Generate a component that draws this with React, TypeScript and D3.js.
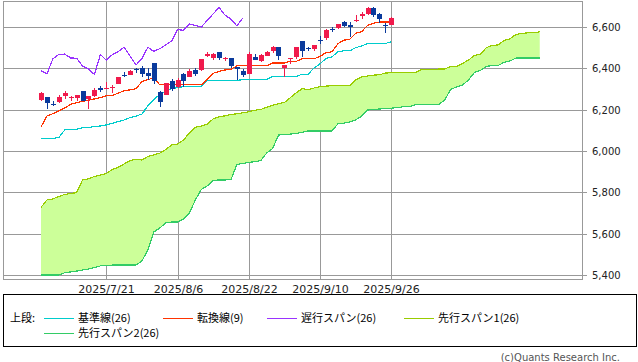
import * as d3 from 'd3';

const WIDTH = 638;
const HEIGHT = 362;
const FRAME = { left: 3, right: 583, top: 1, bottom: 280 };

// trading days shown (candles)
const dates = [
    '2025/7/3', '2025/7/7', '2025/7/8', '2025/7/9', '2025/7/10', '2025/7/11', '2025/7/14', '2025/7/15', '2025/7/16', '2025/7/17',
    '2025/7/18', '2025/7/21', '2025/7/22', '2025/7/23', '2025/7/24', '2025/7/25', '2025/7/28', '2025/7/29', '2025/7/30', '2025/7/31',
    '2025/8/1', '2025/8/4', '2025/8/5', '2025/8/6', '2025/8/7', '2025/8/8', '2025/8/11', '2025/8/12', '2025/8/13', '2025/8/14',
    '2025/8/15', '2025/8/18', '2025/8/19', '2025/8/20', '2025/8/21', '2025/8/22', '2025/8/25', '2025/8/26', '2025/8/27', '2025/8/28',
    '2025/8/29', '2025/9/2', '2025/9/3', '2025/9/4', '2025/9/5', '2025/9/8', '2025/9/9', '2025/9/10', '2025/9/11', '2025/9/12',
    '2025/9/15', '2025/9/16', '2025/9/17', '2025/9/18', '2025/9/19', '2025/9/22', '2025/9/23', '2025/9/24', '2025/9/25', '2025/9/26',
];

const opens = [
    6246, 6259, 6229, 6235, 6264, 6256, 6255, 6288, 6254, 6264,
    6306, 6304, 6306, 6326, 6368, 6370, 6397, 6404, 6376, 6427,
    6287, 6272, 6337, 6309, 6372, 6358, 6390, 6392, 6458, 6451,
    6479, 6445, 6449, 6407, 6385, 6374, 6457, 6435, 6462, 6483,
    6501, 6401, 6443, 6456, 6530, 6498, 6494, 6537, 6545, 6590,
    6597, 6624, 6608, 6627, 6651, 6662, 6694, 6661, 6612, 6611,
];
const highs = [
    6284, 6263, 6242, 6269, 6290, 6266, 6273, 6290, 6268, 6304,
    6316, 6336, 6317, 6360, 6381, 6390, 6401, 6409, 6402, 6427,
    6288, 6330, 6346, 6352, 6379, 6395, 6400, 6446, 6481, 6473,
    6481, 6456, 6452, 6407, 6395, 6481, 6467, 6468, 6484, 6508,
    6501, 6416, 6451, 6502, 6532, 6502, 6513, 6555, 6592, 6600,
    6616, 6627, 6624, 6657, 6672, 6698, 6696, 6667, 6619, 6650,
];
const lows = [
    6240, 6201, 6217, 6231, 6251, 6242, 6242, 6243, 6201, 6263,
    6285, 6303, 6281, 6322, 6360, 6366, 6379, 6360, 6345, 6326,
    6212, 6272, 6289, 6303, 6310, 6356, 6364, 6386, 6455, 6441,
    6441, 6437, 6404, 6343, 6360, 6374, 6438, 6430, 6460, 6475,
    6441, 6360, 6422, 6446, 6455, 6484, 6482, 6519, 6538, 6577,
    6591, 6600, 6551, 6624, 6637, 6658, 6646, 6620, 6570, 6608,
];
const closes = [
    6279, 6230, 6226, 6263, 6280, 6260, 6269, 6244, 6264, 6297,
    6297, 6306, 6310, 6359, 6363, 6389, 6390, 6371, 6363, 6339,
    6238, 6330, 6299, 6345, 6340, 6389, 6373, 6446, 6467, 6469,
    6450, 6449, 6411, 6396, 6370, 6467, 6439, 6466, 6481, 6502,
    6460, 6416, 6448, 6502, 6482, 6495, 6513, 6532, 6587, 6584,
    6615, 6607, 6600, 6632, 6664, 6694, 6657, 6638, 6605, 6644,
];

// 転換線(9)
const tenkan = [
    6116, 6169, 6181, 6194, 6208, 6226, 6234, 6240, 6246, 6252,
    6258, 6268, 6268, 6280, 6291, 6296, 6301, 6336, 6345, 6354,
    6320, 6320, 6320, 6320, 6320, 6320, 6320, 6320, 6346, 6376,
    6385, 6392, 6396, 6412, 6412, 6412, 6412, 6412, 6412, 6426,
    6426, 6426, 6434, 6434, 6446, 6446, 6446, 6458, 6476, 6480,
    6519, 6536, 6541, 6570, 6577, 6608, 6618, 6624, 6624, 6624,
];
// 基準線(26)
const kijun = [
    6061, 6061, 6061, 6065, 6102, 6105, 6105, 6113, 6114, 6118,
    6121, 6126, 6134, 6142, 6150, 6162, 6169, 6179, 6218, 6249,
    6273, 6290, 6302, 6307, 6311, 6314, 6314, 6314, 6341, 6341,
    6341, 6341, 6341, 6341, 6346, 6346, 6346, 6346, 6346, 6360,
    6360, 6360, 6360, 6360, 6372, 6372, 6402, 6422, 6448, 6455,
    6480, 6485, 6485, 6500, 6508, 6520, 6520, 6520, 6520, 6529,
];
// 先行スパン1 (runs 25 days past the last candle)
const senkouA = [
    5727, 5763, 5768, 5780, 5790, 5794, 5799, 5860, 5865, 5877,
    5884, 5891, 5910, 5921, 5937, 5954, 5960, 5956, 5973, 5981,
    5990, 6007, 6029, 6034, 6053, 6088, 6115, 6121, 6130, 6155,
    6166, 6170, 6177, 6180, 6185, 6190, 6197, 6201, 6211, 6221,
    6229, 6235, 6258, 6282, 6302, 6297, 6305, 6311, 6314, 6316,
    6317, 6317, 6317, 6344, 6359, 6363, 6367, 6369, 6377, 6379,
    6379, 6379, 6379, 6379, 6393, 6393, 6393, 6397, 6397, 6409,
    6409, 6424, 6440, 6462, 6468, 6500, 6511, 6513, 6535, 6543,
    6564, 6569, 6572, 6572, 6577,
];
// 先行スパン2
const senkouB = [
    5400, 5400, 5400, 5400, 5411, 5415, 5419, 5424, 5429, 5436,
    5444, 5446, 5448, 5448, 5448, 5448, 5448, 5468, 5521, 5608,
    5627, 5652, 5656, 5656, 5671, 5700, 5763, 5814, 5831, 5857,
    5860, 5860, 5862, 5935, 5940, 5944, 5949, 5953, 5990, 6012,
    6077, 6080, 6082, 6085, 6090, 6097, 6097, 6097, 6097, 6097,
    6131, 6135, 6140, 6150, 6169, 6198, 6201, 6203, 6206, 6207,
    6210, 6214, 6214, 6223, 6226, 6226, 6226, 6226, 6247, 6298,
    6310, 6319, 6344, 6380, 6390, 6409, 6414, 6414, 6429, 6436,
    6450, 6450, 6450, 6450, 6450,
];
const CHIKOU_SHIFT = 25;

const yTicks = [5400, 5600, 5800, 6000, 6200, 6400, 6600];
const dateTicks = ['2025/7/21', '2025/8/6', '2025/8/22', '2025/9/10', '2025/9/26'];

const COLORS = {
    up: '#F01A4C',
    down: '#0A3A9C',
    kijun: '#00CCCC',
    tenkan: '#FF3300',
    chikou: '#9933FF',
    spanA: '#99CC00',
    spanB: '#33CC66',
    cloud: '#CCFF99',
    grid: '#999999',
};

const legendRows = [
    [
        { label: '基準線(26)', color: COLORS.kijun, x: 44 },
        { label: '転換線(9)', color: COLORS.tenkan, x: 163 },
        { label: '遅行スパン(26)', color: COLORS.chikou, x: 267 },
        { label: '先行スパン1(26)', color: COLORS.spanA, x: 404 },
    ],
    [{ label: '先行スパン2(26)', color: COLORS.spanB, x: 44 }],
];

const crisp = (v: number) => Math.round(v) + 0.5;

export default function App() {
    // index -> x, candle 0 sits at 41px, 9/26 at 391px
    const xScale = d3.scaleLinear().domain([0, 59]).range([41, 391.3]);
    const yScale = d3.scaleLinear().domain([5400, 6600]).range([275, 27]);

    const line = d3
        .line<number>()
        .x((_, i) => xScale(i))
        .y(d => yScale(d));

    const cloud = d3
        .area<number>()
        .x((_, i) => xScale(i))
        .y0((_, i) => yScale(senkouB[i]))
        .y1(d => yScale(d));

    const chikou = closes.slice(CHIKOU_SHIFT);

    // the indicator lines in the original are hard pixel lines
    const series = [
        { data: senkouA, color: COLORS.spanA },
        { data: senkouB, color: COLORS.spanB },
        { data: kijun, color: COLORS.kijun },
        { data: tenkan, color: COLORS.tenkan },
        { data: chikou, color: COLORS.chikou },
    ];

    const candles = closes.map((c, i) => {
        const o = opens[i];
        const cx = Math.round(xScale(i));
        const color = c >= o ? COLORS.up : COLORS.down;
        const top = Math.round(yScale(Math.max(o, c)));
        const bottom = Math.round(yScale(Math.min(o, c)));
        return (
            <g key={i}>
                <line
                    x1={cx + 0.5}
                    x2={cx + 0.5}
                    y1={Math.round(yScale(highs[i]))}
                    y2={Math.round(yScale(lows[i]))}
                    stroke={color}
                    strokeWidth={1}
                />
                <rect x={cx - 2} y={top} width={5} height={Math.max(1, bottom - top)} fill={color} />
            </g>
        );
    });

    return (
        <svg
            width={WIDTH}
            height={HEIGHT}
            style={{ position: 'absolute', left: 0, top: 0, background: '#fff' }}
        >
            {/* grid */}
            {yTicks.map(v => (
                <g key={v}>
                    <line
                        x1={FRAME.left}
                        x2={FRAME.right + 4}
                        y1={crisp(yScale(v))}
                        y2={crisp(yScale(v))}
                        stroke={COLORS.grid}
                        shapeRendering="crispEdges"
                    />
                    <text
                        x={592}
                        y={yScale(v) + 4}
                        fontFamily="DejaVu Sans"
                        fontSize={10}
                        fill="#222"
                    >
                        {d3.format(',')(v)}
                    </text>
                </g>
            ))}
            {dateTicks.map(d => {
                const x = crisp(xScale(dates.indexOf(d)));
                return (
                    <g key={d}>
                        <line
                            x1={x}
                            x2={x}
                            y1={FRAME.top}
                            y2={FRAME.bottom}
                            stroke={COLORS.grid}
                            shapeRendering="crispEdges"
                        />
                        <text
                            x={x}
                            y={293}
                            textAnchor="middle"
                            fontFamily="DejaVu Sans"
                            fontSize={11}
                            fill="#222"
                        >
                            {d}
                        </text>
                    </g>
                );
            })}

            {/* ichimoku cloud + lines */}
            <path d={cloud(senkouA) ?? ''} fill={COLORS.cloud} />
            {series.map((s, i) => (
                <path
                    key={i}
                    d={line(s.data) ?? ''}
                    fill="none"
                    stroke={s.color}
                    strokeWidth={1.2}
                    shapeRendering="crispEdges"
                />
            ))}

            {candles}

            <rect
                x={FRAME.left + 0.5}
                y={FRAME.top + 0.5}
                width={FRAME.right - FRAME.left - 1}
                height={FRAME.bottom - FRAME.top - 1}
                fill="none"
                stroke={COLORS.grid}
                shapeRendering="crispEdges"
            />

            {/* legend */}
            <rect x={3.5} y={294.5} width={633} height={52} fill="none" stroke="#000" shapeRendering="crispEdges" />
            <text x={10} y={322} fontFamily="Noto Sans CJK JP" fontSize={11} fill="#000">
                上段:
            </text>
            {legendRows.map((row, r) =>
                row.map(item => {
                    const y = 318 + r * 15;
                    return (
                        <g key={item.label}>
                            <line
                                x1={item.x}
                                x2={item.x + 30}
                                y1={y + 0.5}
                                y2={y + 0.5}
                                stroke={item.color}
                                shapeRendering="crispEdges"
                            />
                            <text x={item.x + 34} y={y + 4} fontFamily="Noto Sans CJK JP" fontSize={11} fill="#000">
                                {item.label}
                            </text>
                        </g>
                    );
                })
            )}

            <text
                x={620}
                y={361}
                textAnchor="end"
                fontFamily="DejaVu Sans"
                fontSize={10}
                fill="#555"
            >
                (c)Quants Research Inc.
            </text>
        </svg>
    );
}
